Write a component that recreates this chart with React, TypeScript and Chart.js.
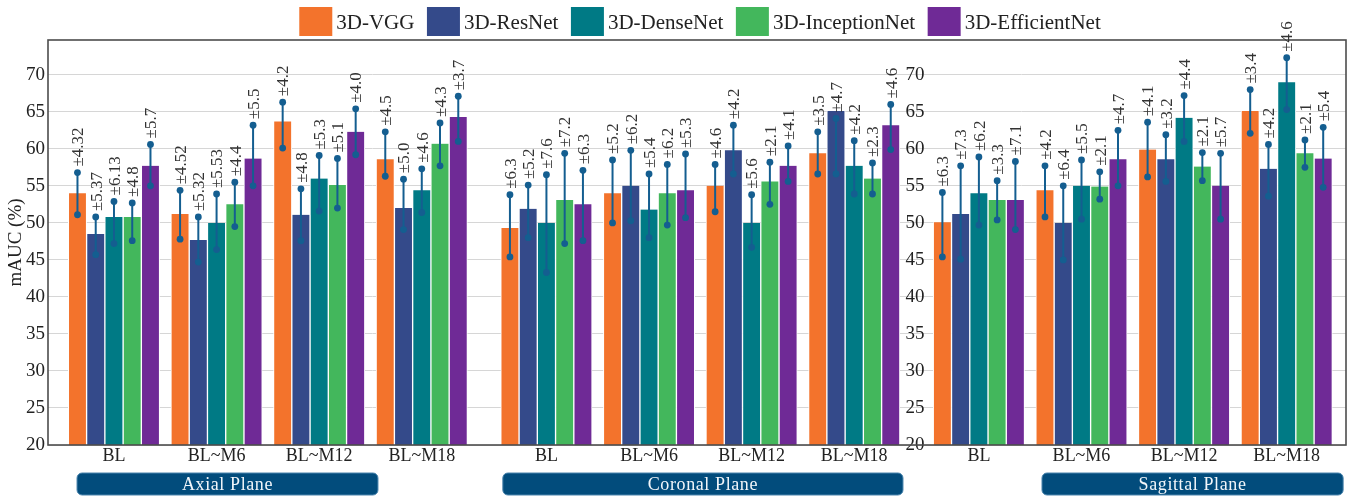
import React, { useEffect, useRef } from 'react';
import { Chart, registerables } from 'chart.js';

Chart.register(...registerables);

// ---------- data ----------
const CATEGORIES = ['BL', 'BL~M6', 'BL~M12', 'BL~M18'];
const PLANES = ['Axial Plane', 'Coronal Plane', 'Sagittal Plane'];
const MODELS = ['3D-VGG', '3D-ResNet', '3D-DenseNet', '3D-InceptionNet', '3D-EfficientNet'];
const Y_TICKS = [20, 25, 30, 35, 40, 45, 50, 55, 60, 65, 70];

// order: Axial BL..M18, Coronal BL..M18, Sagittal BL..M18
const vggMean = [54.0, 51.2, 63.7, 58.6, 49.3, 54.0, 55.0, 59.4, 50.1, 54.4, 59.9, 65.1];
const vggLow = [51.1, 47.8, 60.1, 56.3, 45.4, 50.0, 51.5, 56.6, 45.4, 50.8, 56.2, 62.1];
const vggHigh = [56.8, 54.4, 66.3, 62.3, 53.8, 58.5, 57.9, 62.3, 54.1, 57.7, 63.6, 68.0];
const vggSd = ['±4.32', '±4.52', '±4.2', '±4.5', '±6.3', '±5.2', '±4.6', '±3.5', '±6.3', '±4.2', '±4.1', '±3.4'];

const resMean = [48.5, 47.7, 51.1, 52.0, 51.9, 55.0, 59.8, 65.1, 51.2, 50.0, 58.6, 57.3];
const resLow = [45.7, 44.7, 47.6, 49.1, 48.0, 50.3, 56.6, 56.6, 45.1, 45.0, 55.6, 53.6];
const resHigh = [50.8, 50.8, 54.6, 55.9, 55.1, 59.8, 63.2, 64.1, 57.7, 55.0, 61.9, 60.6];
const resSd = ['±5.37', '±5.32', '±4.8', '±5.0', '±5.2', '±6.2', '±4.2', '±4.7', '±7.3', '±6.4', '±3.2', '±4.2'];

const denseMean = [50.8, 50.0, 56.0, 54.4, 50.0, 51.8, 50.0, 57.7, 54.0, 55.0, 64.2, 69.0];
const denseLow = [47.2, 46.4, 51.6, 51.4, 43.3, 48.0, 46.7, 53.9, 49.7, 50.5, 61.0, 65.3];
const denseHigh = [52.9, 53.9, 59.1, 57.3, 56.5, 56.6, 53.8, 61.1, 58.9, 58.5, 67.2, 72.3];
const denseSd = ['±6.13', '±5.53', '±5.3', '±4.6', '±7.6', '±5.4', '±5.6', '±4.2', '±6.2', '±5.5', '±4.4', '±4.6'];

const incMean = [50.8, 52.5, 55.1, 60.7, 53.1, 54.0, 55.6, 56.0, 53.1, 54.9, 57.6, 59.4];
const incLow = [47.6, 49.5, 52.0, 57.7, 47.2, 49.7, 52.5, 53.9, 50.4, 53.2, 55.7, 57.5];
const incHigh = [52.7, 55.5, 58.7, 63.5, 59.4, 57.9, 58.2, 58.1, 55.7, 56.9, 59.5, 61.2];
const incSd = ['±4.8', '±4.4', '±5.1', '±4.3', '±7.2', '±6.2', '±2.1', '±2.3', '±3.3', '±2.1', '±2.1', '±2.1'];

const effMean = [57.7, 58.7, 62.3, 64.3, 52.5, 54.4, 57.7, 63.2, 53.1, 58.6, 55.0, 58.7];
const effLow = [55.0, 55.0, 59.2, 61.0, 47.6, 50.7, 55.6, 59.9, 49.1, 55.0, 50.5, 54.8];
const effHigh = [60.6, 63.2, 65.4, 67.1, 57.1, 59.3, 60.4, 66.0, 58.3, 62.5, 59.4, 62.9];
const effSd = ['±5.7', '±5.5', '±4.0', '±3.7', '±6.3', '±5.3', '±4.1', '±4.6', '±7.1', '±4.7', '±5.7', '±5.4'];

// ---------- styles / layout ----------
const FONT = '"Liberation Serif", "Times New Roman", serif';
const COLORS = ['#F3732C', '#344A8A', '#007A85', '#43B75C', '#6F2A96'];
const ERR_COLOR = '#145E90';
const TEXT_COLOR = '#222222';
const PLANE_STRIDE = 4.215; // x-units between the first groups of adjacent planes
const X_MIN = -0.643;
const X_MAX = 12.008;
const SAG_AXIS_X = 7.9;
const PLANE_BOX_SPANS = [[-0.36, 2.573], [3.79, 7.69], [9.045, 11.98]];
const LEGEND_CENTER = 700;

const groupX = (i: number) => (i % CATEGORIES.length) + Math.floor(i / CATEGORIES.length) * PLANE_STRIDE;

const SERIES = [
  { mean: vggMean, low: vggLow, high: vggHigh, sd: vggSd },
  { mean: resMean, low: resLow, high: resHigh, sd: resSd },
  { mean: denseMean, low: denseLow, high: denseHigh, sd: denseSd },
  { mean: incMean, low: incLow, high: incHigh, sd: incSd },
  { mean: effMean, low: effLow, high: effHigh, sd: effSd },
];

const TICK_LABELS = PLANES.flatMap(() => CATEGORIES);
const TICK_POSITIONS = TICK_LABELS.map((_, i) => groupX(i));

const errorBarPlugin = {
  id: 'errorBars',
  afterDatasetsDraw(chart: any) {
    const ctx = chart.ctx;
    const yScale = chart.scales.y;
    ctx.save();
    chart.data.datasets.forEach((ds: any, di: number) => {
      const meta = chart.getDatasetMeta(di);
      meta.data.forEach((bar: any, i: number) => {
        const x = bar.x;
        const yHi = yScale.getPixelForValue(ds.errHigh[i]);
        const yLo = yScale.getPixelForValue(ds.errLow[i]);
        ctx.strokeStyle = ERR_COLOR;
        ctx.lineWidth = 2;
        ctx.beginPath();
        ctx.moveTo(x, yLo);
        ctx.lineTo(x, yHi);
        ctx.stroke();
        ctx.fillStyle = ERR_COLOR;
        [yLo, yHi].forEach((yy) => {
          ctx.beginPath();
          ctx.arc(x, yy, 3.4, 0, Math.PI * 2);
          ctx.fill();
        });
        ctx.save();
        ctx.translate(x + 5.8, yHi - 6);
        ctx.rotate(-Math.PI / 2);
        ctx.font = `17px ${FONT}`;
        ctx.fillStyle = '#333333';
        ctx.textAlign = 'left';
        ctx.textBaseline = 'alphabetic';
        ctx.fillText(ds.sdLabels[i], 0, 0);
        ctx.restore();
      });
    });
    ctx.restore();
  },
};

const framePlugin = {
  id: 'frame',
  afterDatasetsDraw(chart: any) {
    const { ctx, chartArea } = chart;
    ctx.save();
    ctx.strokeStyle = '#4d4d4d';
    ctx.lineWidth = 1.6;
    ctx.strokeRect(chartArea.left, chartArea.top, chartArea.right - chartArea.left, chartArea.bottom - chartArea.top);
    ctx.restore();
  },
};

const legendPlugin = {
  id: 'customLegend',
  afterDraw(chart: any) {
    const ctx = chart.ctx;
    ctx.save();
    ctx.font = `21px ${FONT}`;
    const bw = 33, bh = 29, top = 7, gapText = 4, gapItem = 12.5;
    const items = chart.data.datasets.map((ds: any) => ({ label: ds.label, color: ds.backgroundColor, w: ctx.measureText(ds.label).width }));
    const total = items.reduce((s: number, it: any) => s + bw + gapText + it.w, 0) + gapItem * (items.length - 1);
    let x = LEGEND_CENTER - total / 2;
    items.forEach((it: any) => {
      ctx.fillStyle = it.color;
      ctx.fillRect(x, top, bw, bh);
      x += bw + gapText;
      ctx.fillStyle = TEXT_COLOR;
      ctx.textAlign = 'left';
      ctx.textBaseline = 'alphabetic';
      ctx.fillText(it.label, x, top + bh / 2 + 7);
      x += it.w + gapItem;
    });
    ctx.restore();
  },
};

const planeBoxPlugin = {
  id: 'planeBoxes',
  afterDraw(chart: any) {
    const { ctx, chartArea } = chart;
    const xScale = chart.scales.x;
    ctx.save();
    PLANES.forEach((name, p) => {
      const x1 = xScale.getPixelForValue(PLANE_BOX_SPANS[p][0]);
      const x2 = xScale.getPixelForValue(PLANE_BOX_SPANS[p][1]);
      const y1 = chartArea.bottom + 28;
      const h = 22;
      ctx.beginPath();
      ctx.roundRect(x1, y1, x2 - x1, h, 5);
      ctx.fillStyle = '#024C7C';
      ctx.fill();
      ctx.strokeStyle = '#4A84AD';
      ctx.lineWidth = 1;
      ctx.stroke();
      ctx.fillStyle = '#F2F6FA';
      ctx.font = `18px ${FONT}`;
      (ctx as any).letterSpacing = '0.6px';
      ctx.textAlign = 'center';
      ctx.textBaseline = 'middle';
      ctx.fillText(name, (x1 + x2) / 2, y1 + h / 2 + 1);
    });
    ctx.restore();
  },
};

const yTickFilter = (s: any) => {
  s.ticks = Y_TICKS.map((v) => ({ value: v }));
};

export default function App() {
  const ref = useRef<HTMLCanvasElement | null>(null);

  useEffect(() => {
    if (!ref.current) return;
    const datasets = MODELS.map((m, k) => ({
      label: m,
      data: SERIES[k].mean.map((v, i) => ({ x: groupX(i), y: v })),
      errLow: SERIES[k].low,
      errHigh: SERIES[k].high,
      sdLabels: SERIES[k].sd,
      backgroundColor: COLORS[k],
      borderColor: '#ffffff',
      borderWidth: { left: 1, right: 1, top: 0, bottom: 0 },
      borderSkipped: false,
      barThickness: 18.25,
      xAxisID: 'x',
      yAxisID: 'y',
    }));
    const chart = new Chart(ref.current, {
      type: 'bar',
      data: { datasets } as any,
      options: {
        animation: false,
        responsive: false,
        layout: { padding: { top: 40, right: 8, left: 0, bottom: 0 } },
        plugins: { legend: { display: false }, tooltip: { enabled: false } },
        scales: {
          x: {
            type: 'linear',
            min: X_MIN,
            max: X_MAX,
            offset: false,
            grid: { display: false, drawTicks: false },
            border: { display: false },
            afterBuildTicks: (s: any) => {
              s.ticks = TICK_POSITIONS.map((v) => ({ value: v }));
            },
            afterFit: (s: any) => {
              s.height = 53;
            },
            ticks: {
              autoSkip: false,
              maxRotation: 0,
              minRotation: 0,
              padding: 0,
              color: TEXT_COLOR,
              font: { family: FONT, size: 18 },
              callback: (_v: any, i: number) => TICK_LABELS[i],
            },
          },
          y: {
            type: 'linear',
            position: 'left',
            min: 20,
            max: 74.7,
            grid: { color: '#d6d6d6', lineWidth: 1, drawTicks: false },
            border: { display: false },
            afterBuildTicks: yTickFilter,
            afterFit: (s: any) => {
              s.width = 48;
            },
            ticks: { padding: 3, color: TEXT_COLOR, font: { family: FONT, size: 19 } },
            title: {
              display: true,
              text: 'mAUC (%)',
              color: TEXT_COLOR,
              font: { family: FONT, size: 19 },
              padding: { top: 5, bottom: 0 },
            },
          },
          y2: {
            type: 'linear',
            axis: 'y',
            position: { x: SAG_AXIS_X },
            min: 20,
            max: 74.7,
            grid: { display: false, drawTicks: false },
            border: { display: false },
            afterBuildTicks: yTickFilter,
            ticks: { padding: 0, color: TEXT_COLOR, font: { family: FONT, size: 19 } },
          },
        } as any,
      },
      plugins: [framePlugin, errorBarPlugin, legendPlugin, planeBoxPlugin],
    });
    return () => chart.destroy();
  }, []);

  return (
    <div style={{ position: 'absolute', left: 0, top: 0, width: 1354, height: 498, background: '#ffffff' }}>
      <canvas ref={ref} width={1354} height={498} style={{ display: 'block' }} />
    </div>
  );
}
